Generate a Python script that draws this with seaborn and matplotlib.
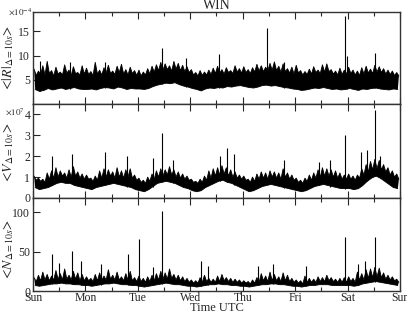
import numpy as np
import pandas as pd
import matplotlib
matplotlib.use('Agg')
import matplotlib.pyplot as plt
import seaborn as sns

days = ['Sun', 'Mon', 'Tue', 'Wed', 'Thu', 'Fri', 'Sat', 'Sun']

# upper edge of the dense band, one value per hour (Sun 00h .. Sat 23h)
# lower edge, one value per 2 hours
# <|R|>, units of 1e-4
r_top = [7.2, 5.9, 6.8, 6.1, 7.9, 6.0, 8.8, 6.3, 6.9, 5.8, 7.6, 6.2, 6.6, 6.0, 8.1, 6.4, 7.0, 5.9, 7.7, 6.3, 6.5, 6.0, 7.9, 6.2,
         7.4, 6.1, 6.7, 5.9, 8.6, 6.2, 7.0, 6.0, 7.5, 6.4, 8.0, 6.3, 6.8, 6.1, 7.8, 6.5, 8.2, 6.2, 7.1, 6.0, 7.6, 6.3, 6.9, 5.9,
         7.0, 5.8, 6.6, 6.0, 7.3, 6.2, 7.8, 6.6, 8.1, 6.9, 8.6, 7.0, 8.3, 7.1, 7.9, 6.8, 8.8, 7.2, 8.4, 6.9, 8.0, 6.7, 7.7, 6.5,
         7.1, 6.0, 6.5, 5.8, 6.9, 5.9, 6.6, 6.0, 7.0, 6.1, 7.4, 6.3, 7.8, 6.4, 7.1, 6.2, 7.5, 6.5, 6.9, 6.3, 7.9, 6.6, 7.3, 6.4,
         7.7, 6.5, 7.1, 6.3, 7.5, 6.6, 8.2, 6.8, 7.9, 6.7, 7.6, 6.9, 8.4, 7.0, 8.7, 6.9, 7.8, 6.6, 8.3, 6.7, 7.3, 6.4, 7.6, 6.2,
         8.0, 6.4, 6.9, 6.0, 6.7, 6.1, 7.2, 6.2, 7.7, 6.5, 7.0, 6.3, 8.1, 6.6, 8.3, 6.7, 7.1, 6.2, 6.8, 6.0, 7.4, 6.1, 7.0, 6.2,
         7.6, 6.3, 7.0, 6.0, 6.8, 5.9, 7.5, 6.2, 7.8, 6.4, 7.2, 6.3, 8.0, 6.6, 7.7, 6.5, 7.3, 6.2, 7.0, 6.1, 6.8, 5.9, 6.5, 5.8]
r_lo = [3.0, 2.6, 2.8, 3.2, 2.9, 3.1, 3.3, 3.0, 3.2, 3.4, 3.1, 3.0,
        3.0, 3.1, 2.9, 3.2, 3.4, 3.3, 3.1, 3.5, 3.3, 3.0, 3.2, 3.1,
        3.1, 3.0, 3.2, 3.6, 3.9, 4.1, 4.3, 4.2, 4.4, 4.0, 3.7, 3.5,
        3.2, 3.0, 2.7, 3.1, 3.3, 3.2, 3.4, 3.3, 3.6, 3.5, 3.7, 3.8,
        3.6, 3.4, 3.3, 3.5, 3.8, 3.9, 3.7, 3.8, 3.6, 3.4, 3.3, 3.1,
        3.0, 2.8, 2.9, 3.1, 3.3, 3.2, 3.4, 3.2, 3.0, 3.1, 2.9, 3.0,
        3.2, 3.0, 2.8, 3.1, 3.0, 3.2, 3.3, 3.1, 3.0, 2.9, 3.1, 3.0]
# single tall excursions: hour, value
r_spike_h = [3, 17, 33, 59, 70, 85, 107, 115, 142.8, 143.6, 156.5]
r_spike_v = [8.8, 8.6, 8.7, 11.6, 9.6, 10.3, 15.6, 8.7, 18.2, 10.0, 10.5]

# <V>, units of 1e7
v_top = [1.05, 0.85, 0.95, 0.8, 0.9, 0.75, 1.2, 0.9, 1.3, 0.95, 1.45, 1.0, 1.3, 1.05, 1.2, 0.95, 1.35, 1.0, 1.5, 1.05, 1.25, 0.95, 1.15, 0.9,
         1.1, 0.9, 0.95, 0.8, 1.05, 0.85, 1.3, 0.95, 1.4, 1.0, 1.35, 1.05, 1.25, 0.95, 1.45, 1.0, 1.3, 0.95, 1.35, 1.0, 1.4, 0.95, 1.1, 0.85,
         0.95, 0.75, 0.85, 0.7, 1.0, 0.8, 1.15, 0.9, 1.3, 1.0, 1.4, 1.05, 1.35, 1.1, 1.5, 1.1, 1.35, 1.0, 1.25, 0.95, 1.15, 0.9, 1.05, 0.85,
         0.9, 0.75, 0.8, 0.7, 0.9, 0.75, 1.05, 0.85, 1.3, 0.95, 1.4, 1.05, 1.45, 1.1, 1.55, 1.15, 1.45, 1.05, 1.35, 1.0, 1.25, 0.95, 1.1, 0.9,
         1.05, 0.85, 0.9, 0.75, 1.0, 0.8, 1.15, 0.9, 1.25, 0.95, 1.2, 0.9, 1.3, 1.0, 1.25, 0.95, 1.2, 0.9, 1.4, 1.0, 1.2, 0.9, 1.1, 0.85,
         0.95, 0.75, 0.85, 0.7, 0.95, 0.8, 1.1, 0.85, 1.2, 0.95, 1.35, 1.0, 1.45, 1.05, 1.4, 1.05, 1.35, 1.0, 1.3, 0.95, 1.2, 0.9, 1.1, 0.9,
         1.15, 0.9, 1.05, 0.85, 1.1, 0.95, 1.4, 1.1, 1.6, 1.25, 1.75, 1.35, 1.85, 1.4, 1.8, 1.35, 1.6, 1.25, 1.45, 1.1, 1.3, 1.0, 1.15, 0.9]
v_lo = [0.5, 0.4, 0.45, 0.5, 0.6, 0.7, 0.75, 0.7, 0.7, 0.6, 0.55, 0.5,
        0.45, 0.4, 0.5, 0.55, 0.6, 0.65, 0.7, 0.65, 0.6, 0.55, 0.5, 0.4,
        0.35, 0.3, 0.4, 0.55, 0.7, 0.75, 0.8, 0.75, 0.7, 0.6, 0.5, 0.45,
        0.35, 0.3, 0.35, 0.5, 0.6, 0.7, 0.8, 0.85, 0.75, 0.7, 0.6, 0.5,
        0.4, 0.3, 0.35, 0.45, 0.55, 0.6, 0.65, 0.6, 0.55, 0.5, 0.45, 0.4,
        0.35, 0.3, 0.35, 0.45, 0.55, 0.6, 0.65, 0.6, 0.55, 0.5, 0.45, 0.45,
        0.45, 0.4, 0.45, 0.6, 0.8, 0.95, 1.05, 0.95, 0.8, 0.65, 0.5, 0.45]
v_spike_h = [8.5, 17.8, 33, 43, 55, 59, 64, 85.6, 89, 92, 115, 131, 136, 142.8, 150, 153, 156.5, 159]
v_spike_v = [2.0, 2.1, 2.2, 2.0, 1.9, 3.1, 1.8, 2.0, 2.4, 2.1, 1.8, 1.7, 1.8, 3.0, 2.2, 2.3, 4.2, 2.0]

# <N>
n_top = [17, 12, 20, 13, 24, 14, 21, 13, 19, 14, 26, 15, 22, 14, 28, 15, 20, 14, 25, 15, 23, 13, 21, 13,
         18, 13, 16, 12, 21, 13, 23, 14, 19, 14, 27, 15, 20, 14, 24, 14, 18, 13, 22, 14, 25, 13, 17, 12,
         19, 12, 16, 11, 18, 12, 20, 13, 22, 14, 25, 15, 23, 15, 28, 16, 21, 14, 20, 13, 18, 12, 16, 11,
         14, 10, 13, 10, 17, 11, 20, 12, 16, 11, 15, 11, 19, 12, 21, 13, 17, 12, 16, 11, 15, 11, 14, 10,
         13, 10, 12, 9, 14, 10, 17, 11, 22, 13, 19, 12, 24, 13, 21, 13, 18, 12, 23, 13, 20, 12, 16, 11,
         14, 10, 13, 9, 19, 11, 16, 11, 15, 11, 18, 12, 17, 12, 20, 13, 17, 12, 15, 11, 16, 11, 17, 11,
         18, 12, 16, 11, 24, 14, 22, 14, 27, 16, 28, 17, 30, 18, 29, 17, 23, 15, 20, 14, 18, 13, 15, 11]
n_lo = [7, 6, 7, 8, 9, 9, 10, 9, 9, 8, 8, 7,
        7, 6, 7, 8, 9, 9, 10, 9, 8, 8, 7, 7,
        6, 5, 6, 7, 8, 9, 10, 9, 8, 8, 7, 6,
        6, 5, 6, 7, 8, 8, 9, 8, 8, 7, 7, 6,
        6, 5, 6, 7, 8, 8, 9, 9, 8, 8, 7, 6,
        6, 5, 6, 7, 7, 8, 8, 8, 7, 7, 7, 7,
        7, 6, 7, 9, 10, 11, 12, 11, 10, 9, 8, 7]
n_spike_h = [8.7, 12, 17.8, 22, 31, 43.6, 48.5, 55, 59, 77, 80, 103, 110, 125, 142.8, 149, 152, 156.5]
n_spike_v = [47, 36, 51, 38, 34, 47, 66, 30, 101, 38, 32, 32, 34, 32, 68, 34, 38, 68]


sns.set_theme(style='ticks')
plt.rcParams['font.family'] = ['Liberation Serif', 'DejaVu Serif']
plt.rcParams['mathtext.fontset'] = 'stix'

fig = plt.figure(figsize=(4.07, 3.14), dpi=100)
W, H = 407, 314
left, right = 33, 400
rows = [(12, 104), (104, 198), (198, 291)]
panels = [
    (r_top, r_lo, r_spike_h, r_spike_v, (0, 19), [5, 10, 15],
     r'$<\!|R|_{\Delta=10s}\!>$', 0.5, r'$\times10^{-4}$', -0.003, 1.0),
    (v_top, v_lo, v_spike_h, v_spike_v, (0, 4.5), [0, 1, 2, 3, 4],
     r'$<\!V_{\Delta=10s}\!>$', 0.48, r'$\times10^{7}$', -0.022, 0.915),
    (n_top, n_lo, n_spike_h, n_spike_v, (0, 118), [0, 50, 100],
     r'$<\!N_{\Delta=10s}\!>$', 0.44, None, 0, 0),
]

for i, ((top, bot), (hi, lo, sh, sv, ylim, yt, ylab, laby, off, offx, offy)) in enumerate(zip(rows, panels)):
    ax = fig.add_axes([left / W, 1 - bot / H, (right - left) / W, (bot - top) / H])
    upper = pd.DataFrame({'hour': np.arange(len(hi)) + 0.5, 'val': hi})
    lower = pd.DataFrame({'hour': np.arange(len(lo)) * 2 + 1, 'val': lo})
    # band outline: upper edge left to right, lower edge back
    ax.fill(np.r_[upper['hour'], lower['hour'][::-1]],
            np.r_[upper['val'], lower['val'][::-1]], color='black', linewidth=0)
    sns.lineplot(data=upper, x='hour', y='val', ax=ax, color='black', linewidth=0.6, estimator=None)
    sns.lineplot(data=lower, x='hour', y='val', ax=ax, color='black', linewidth=0.6, estimator=None)
    base = [lo[int(h // 2)] for h in sh]
    ax.vlines(sh, base, sv, color='black', linewidth=0.8)
    ax.set_xlim(0, 168)
    ax.set_ylim(*ylim)
    ax.set_yticks(yt)
    ax.set_yticklabels([str(t) for t in yt], fontsize=8.5)
    ax.set_xticks(np.arange(0, 169, 24))
    ax.set_xticks(np.arange(12, 168, 24), minor=True)
    ax.tick_params(axis='x', which='both', direction='in', top=True, bottom=True, pad=1)
    ax.tick_params(axis='x', which='major', length=5, width=0.8)
    ax.tick_params(axis='x', which='minor', length=3, width=0.8)
    ax.tick_params(axis='y', direction='in', length=5, width=0.8, pad=2)
    if i == 2:
        ax.set_xticklabels(days, fontsize=8.5)
        ax.set_xlabel('Time UTC', fontsize=9, labelpad=-1.5)
    else:
        ax.set_xticklabels([])
        ax.set_xlabel('')
    ax.set_ylabel(ylab, fontsize=10)
    ax.yaxis.set_label_coords(-0.045, laby)
    for s in ax.spines.values():
        s.set_linewidth(1.0)
        s.set_color('#333333')
    if off:
        ax.text(offx, offy, off, transform=ax.transAxes,
                fontsize=6.5, ha='right', va='center')
    if i == 0:
        ax.set_title('WIN', fontsize=10, pad=2)

fig.savefig('out.png', dpi=100)
